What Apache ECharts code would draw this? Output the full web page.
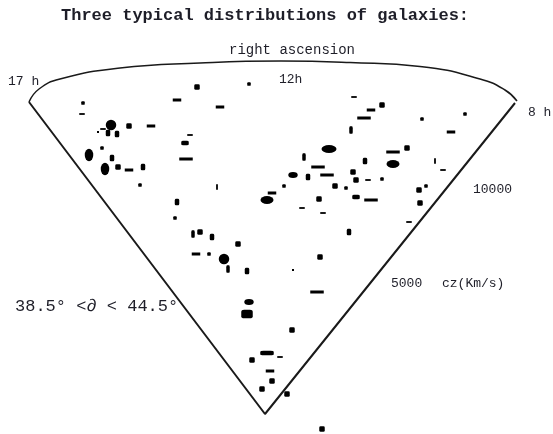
<!DOCTYPE html>
<html>
<head>
<meta charset="utf-8">
<script src="https://cdn.jsdelivr.net/npm/echarts@6/dist/echarts.min.js"></script>
<style>
html,body{margin:0;padding:0;background:#fff;}
#chart{width:553px;height:434px;}
</style>
</head>
<body>
<div id="chart"></div>
<script>
// Galaxy positions in the wedge plane (km/s, apex = observer at 0,0)
var galaxyX = [-1360,-320,-3640,-1760,-900,-3660,-3080,-3240,-3340,-3140,-2960,-2720,-2280,-1500,-1600,-1580,-3260,-3520,-3060,-3200,-2940,-2720,-2440,-2500,-960,140,40,-1760,-1800,
  1780,2120,2340,1980,3140,1720,3720,1280,2560,2840,780,2560,2000,3400,1060,3560,1760,560,1240,860,1820,2060,2340,380,1400,1620,3080,3220,1080,1820,2120,3100,740,1160,4000,2880,1680,
  -1440,-1300,-1060,-540,-1380,-1120,-820,-740,-360,1100,560,1040,-320,-360,540,40,300,-260,100,140,-60,440,1140];
var galaxyY = [6540,6600,6220,6280,6140,6000,5780,5700,5640,5620,5600,5760,5760,5580,5420,5100,5320,5180,5120,4900,4940,4880,4940,4580,4540,4420,4280,4240,3920,
  6340,6080,6180,5920,5900,5680,5640,5300,5240,5320,5140,5000,5060,5060,4940,4880,4840,4780,4780,4740,4680,4680,4700,4560,4560,4520,4480,4560,4300,4340,4280,4220,4120,4020,6000,3840,3640,
  3600,3640,3540,3400,3200,3200,3100,2900,2860,3140,2880,2440,2240,2000,1680,1220,1140,1080,860,660,500,400,-300];
var galaxyKind = ['sq','pt','pt','dash','dash','tick','big','tick','speck','sqv','sqv','sq','dash','tick','dashb','long','pt','ellv','sqv','ellv','sq','dash','sqv','pt','vtick','dash','ell','sqv','pt',
  'tick','dash','sq','long','pt','bar','dash','ellw','long','sq','bar','ell','sqv','vtick','long','tick','sq','ells','long','sqv','sq','tick','pt','pt','sq','pt','sq','pt','sq','dashb','long','sq','tick','tick','pt','tick','sqv',
  'bar','sq','sqv','sq','dash','pt','big','bar','sqv','sq','speck','long','ells','blob','sq','longb','tick','sq','dash','sq','sq','sq','sq'];

// Survey outline (km/s): wedge edges and the outer boundary
var wedgeEdge = [[-4720,6240],[0,0],[5000,6220]];
var outerBoundary = [[-4720,6240],[-4520,6500],[-4100,6700],[-2900,6920],[-1300,7020],[320,7060],[1700,7030],[3100,6950],[4300,6700],[4800,6480],[5040,6260]];

var kindStyle = {
  pt:['roundRect',[3.5,3.5]], speck:['rect',[2,2]], tick:['rect',[5.5,1.8]], vtick:['rect',[1.8,5.5]],
  dash:['rect',[8.5,3]], dashb:['roundRect',[7.5,4.5]], long:['rect',[13.5,3]], longb:['roundRect',[13.5,4.5]],
  sq:['roundRect',[5.5,5.5]], sqv:['roundRect',[4.5,6.5]], bar:['roundRect',[3.5,7.5]],
  ell:['circle',[13,8]], ellw:['circle',[15,8]], ells:['circle',[9.5,6]], ellv:['circle',[8.5,12.5]],
  big:['circle',[10.5,10.5]], blob:['roundRect',[11.5,8.5]]
};

var galaxies = galaxyX.map(function(x,i){ return [x, galaxyY[i], galaxyKind[i]]; });

var chart = echarts.init(document.getElementById('chart'), null, {renderer:'canvas'});
var mono = '"Liberation Mono", "DejaVu Sans Mono", monospace';
var txt = '#1e1e28';
chart.setOption({
  backgroundColor:'#ffffff',
  animation:false,
  grid:{left:0,right:0,top:0,bottom:0},
  xAxis:{type:'value',min:-5300,max:5760,show:false},
  yAxis:{type:'value',min:-400,max:8280,show:false},
  series:[
    {type:'line',data:wedgeEdge,symbol:'none',lineStyle:{color:'#1a1a1a',width:2},silent:true},
    {type:'line',data:outerBoundary,symbol:'none',smooth:true,lineStyle:{color:'#1a1a1a',width:1.5},silent:true},
    {type:'scatter',data:galaxies,
     symbol:function(v){return kindStyle[v[2]][0];},
     symbolSize:function(v){return kindStyle[v[2]][1];},
     itemStyle:{color:'#000',opacity:1}}
  ],
  graphic:[
    {type:'text',x:61,y:7,style:{text:'Three typical distributions of galaxies:',font:'bold 17px '+mono,fill:txt}},
    {type:'text',x:229,y:43,style:{text:'right ascension',font:'14px '+mono,fill:txt}},
    {type:'text',x:279,y:73,style:{text:'12h',font:'13px '+mono,fill:txt}},
    {type:'text',x:8,y:75,style:{text:'17 h',font:'13px '+mono,fill:txt}},
    {type:'text',x:528,y:106,style:{text:'8 h',font:'13px '+mono,fill:txt}},
    {type:'text',x:473,y:183,style:{text:'10000',font:'13px '+mono,fill:txt}},
    {type:'text',x:391,y:277,style:{text:'5000',font:'13px '+mono,fill:txt}},
    {type:'text',x:442,y:277,style:{text:'cz(Km/s)',font:'13px '+mono,fill:txt}},
    {type:'text',x:15,y:298,style:{text:'38.5° <∂ < 44.5°',font:'17px '+mono,fill:txt}}
  ]
});
</script>
</body>
</html>
